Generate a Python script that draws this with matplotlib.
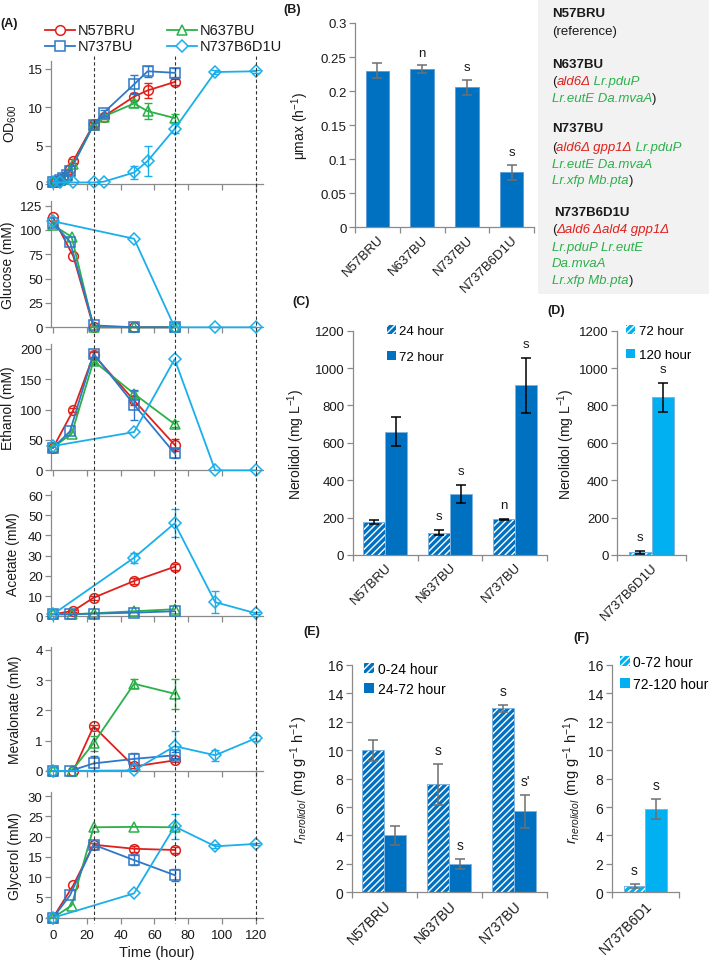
import matplotlib
matplotlib.use('Agg')
import matplotlib.pyplot as plt
from matplotlib.patches import Patch, Rectangle
import numpy as np

# ---------------- DATA ----------------
strains = ['N57BRU', 'N637BU', 'N737BU', 'N737B6D1U']

# OD600
od_t_n57 = [0, 2, 4, 6, 8, 10, 12, 24, 30, 48, 56, 72]
od_n57 = [0.2, 0.3, 0.5, 0.8, 1.2, 1.9, 3.0, 7.8, 8.8, 11.4, 12.2, 13.3]
od_e_n57 = [0, 0, 0, 0, 0, 0, 0.3, 0.3, 0.3, 0.5, 1.0, 0.4]
od_t_n637 = [0, 2, 4, 6, 8, 10, 12, 24, 30, 48, 56, 72]
od_n637 = [0.2, 0.3, 0.5, 0.7, 1.1, 1.7, 2.6, 7.7, 8.8, 10.5, 9.5, 8.6]
od_e_n637 = [0, 0, 0, 0, 0, 0, 0, 0.3, 0.3, 0.5, 1.0, 0.5]
od_t_n737 = [0, 2, 4, 6, 8, 10, 24, 30, 48, 56, 72]
od_n737 = [0.2, 0.3, 0.5, 0.8, 1.2, 1.7, 7.7, 9.3, 13.0, 14.7, 14.5]
od_e_n737 = [0, 0, 0, 0, 0, 0, 0.3, 0.4, 1.2, 0.7, 0.6]
od_t_b6d1 = [0, 4, 12, 24, 30, 48, 56, 72, 96, 120]
od_b6d1 = [0.2, 0.2, 0.2, 0.2, 0.3, 1.5, 3.0, 7.2, 14.6, 14.7]
od_e_b6d1 = [0, 0, 0, 0, 0, 0.9, 2.0, 0.6, 0.3, 0.2]

# Metabolite sampling times
met_t_n57 = [0, 12, 24, 48, 72]
met_t_n637 = [0, 11, 24, 48, 72]
met_t_n737 = [0, 10, 24, 48, 72]
met_t_b6d1 = [0, 48, 72, 96, 120]

glucose_n57 = [113, 73, 0, 0, 0]
glucose_n637 = [105, 93, 0, 0, 0]
glucose_n737 = [107, 88, 2, 0, 0]
glucose_b6d1 = [109, 91, 0, 0, 0]

ethanol_n57 = [37, 99, 190, 115, 42]
ethanol_e_n57 = [0, 3, 5, 8, 10]
ethanol_n637 = [38, 60, 180, 126, 76]
ethanol_e_n637 = [0, 0, 5, 5, 5]
ethanol_n737 = [37, 64, 192, 108, 28]
ethanol_e_n737 = [0, 0, 5, 25, 8]
ethanol_b6d1 = [40, 63, 183, 0, 0]
ethanol_e_b6d1 = [0, 0, 0, 0, 0]

acetate_n57 = [1, 2.7, 9.2, 17.5, 24.5]
acetate_e_n57 = [0, 0.5, 1.0, 1.5, 1.5]
acetate_n637 = [1, 1, 1.5, 2.5, 3.5]
acetate_e_n637 = [0, 0, 0, 0, 0]
acetate_n737 = [1, 1, 1.3, 1.8, 2.5]
acetate_e_n737 = [0, 0, 0, 0, 0]
acetate_b6d1 = [1, 29, 46, 7, 1.5]
acetate_e_b6d1 = [0, 2.5, 7, 5.5, 0.5]

meval_n57 = [0, 0, 1.47, 0.15, 0.35]
meval_e_n57 = [0, 0, 0.05, 0.05, 0.05]
meval_n637 = [0, 0, 0.92, 2.88, 2.55]
meval_e_n637 = [0, 0, 0.25, 0.15, 0.5]
meval_n737 = [0, 0, 0.25, 0.4, 0.52]
meval_e_n737 = [0, 0, 0.25, 0.2, 0.1]
meval_b6d1 = [0, 0.02, 0.82, 0.52, 1.08]
meval_e_b6d1 = [0, 0, 0.5, 0.18, 0.1]

glycerol_n57 = [0, 8, 18, 17, 16.7]
glycerol_e_n57 = [0, 0, 0.5, 0.8, 0.8]
glycerol_n637 = [0, 3, 22.3, 22.4, 22.3]
glycerol_e_n637 = [0, 0, 0, 0, 0]
glycerol_n737 = [0, 5.5, 18, 14.2, 10.5]
glycerol_e_n737 = [0, 0, 0.5, 1.3, 1.5]
glycerol_b6d1 = [0, 6, 22.5, 17.6, 18.2]
glycerol_e_b6d1 = [0, 0, 3, 0.5, 0.3]

# Panel B
mu_max = [0.230, 0.232, 0.206, 0.081]
mu_err = [0.011, 0.006, 0.011, 0.011]
mu_sig = ['', 'n', 's', 's']

# Panel C
c_strains = ['N57BRU', 'N637BU', 'N737BU']
ner_24 = [178, 120, 190]
ner_24_err = [10, 15, 5]
ner_24_sig = ['', 's', 'n']
ner_72 = [660, 325, 908]
ner_72_err = [78, 48, 148]
ner_72_sig = ['', 's', 's']

# Panel D
d_strain = ['N737B6D1U']
ner_d72 = [15]
ner_d72_err = [8]
ner_d120 = [843]
ner_d120_err = [77]

# Panel E
r_0_24 = [10.0, 7.6, 12.95]
r_0_24_err = [0.75, 1.45, 0.25]
r_0_24_sig = ['', 's', 's']
r_24_72 = [4.0, 2.0, 5.7]
r_24_72_err = [0.65, 0.35, 1.15]
r_24_72_sig = ['', 's', "s'"]

# Panel F
f_strain = ['N737B6D1']
r_0_72 = [0.45]
r_0_72_err = [0.15]
r_72_120 = [5.85]
r_72_120_err = [0.7]

# ---------------- STYLE ----------------
plt.rcParams['font.family'] = ['Liberation Sans', 'DejaVu Sans']
plt.rcParams['mathtext.fontset'] = 'custom'
plt.rcParams['mathtext.rm'] = 'Liberation Sans'
plt.rcParams['mathtext.it'] = 'Liberation Sans:italic'
plt.rcParams['mathtext.bf'] = 'Liberation Sans:bold'
plt.rcParams['hatch.linewidth'] = 1.0

W, H = 709, 962
fig = plt.figure(figsize=(W / 100, H / 100), dpi=100)

def rect(l, t, r, b):
    return [l / W, 1 - b / H, (r - l) / W, (b - t) / H]

RED = '#E0201B'
GREEN = '#2BB04A'
BLUE = '#2E78C8'
LBLUE = '#1AAFEA'
BAR_D = '#0070C0'
BAR_L = '#00B0F0'
SPINE = '#8a8a8a'
TXT = '#1a1a1a'
HATCH = '/////'

def style_axes(ax, fs):
    for s in ['top', 'right']:
        ax.spines[s].set_visible(False)
    for s in ['left', 'bottom']:
        ax.spines[s].set_color(SPINE)
        ax.spines[s].set_linewidth(0.9)
    ax.tick_params(direction='out', length=4, width=0.9, color=SPINE,
                   labelsize=fs, labelcolor=TXT, pad=2)
    ax.tick_params(which='minor', direction='out', length=4, width=0.9, color=SPINE)

# ---------------- PANEL A ----------------
A_L, A_R = 51, 263
XMIN, XMAX = -1.2, 124.3

series_meta = [
    ('o', RED, 7), ('^', GREEN, 7.5), ('s', BLUE, 7.5), ('D', LBLUE, 6),
]

def draw_series(ax, t, y, e, meta):
    m, c, ms = meta
    ax.plot(t, y, color=c, lw=1.3, marker=m, ms=ms, mfc='none', mec=c,
            mew=1.1, clip_on=False, zorder=3)
    t = np.asarray(t, float); y = np.asarray(y, float); e = np.asarray(e, float)
    sel = e > 0
    if sel.any():
        ax.errorbar(t[sel], y[sel], yerr=e[sel], fmt='none', ecolor=c,
                    elinewidth=1.0, capsize=3, capthick=1.0, zorder=3, clip_on=False)

panels_A = [
    (62.3, 185.0, 16, [0, 5, 10, 15], 'OD$_{600}$', -0.15,
     [(od_t_n57, od_n57, od_e_n57), (od_t_n637, od_n637, od_e_n637),
      (od_t_n737, od_n737, od_e_n737), (od_t_b6d1, od_b6d1, od_e_b6d1)]),
    (201.8, 328.3, 130, [0, 25, 50, 75, 100, 125], 'Glucose (mM)', -0.17,
     [(met_t_n57, glucose_n57, [0] * 5), (met_t_n637, glucose_n637, [0] * 5),
      (met_t_n737, glucose_n737, [0] * 5), (met_t_b6d1, glucose_b6d1, [0] * 5)]),
    (345.0, 471.3, 208, [0, 50, 100, 150, 200], 'Ethanol (mM)', -0.17,
     [(met_t_n57, ethanol_n57, ethanol_e_n57), (met_t_n637, ethanol_n637, ethanol_e_n637),
      (met_t_n737, ethanol_n737, ethanol_e_n737), (met_t_b6d1, ethanol_b6d1, ethanol_e_b6d1)]),
    (492.0, 617.3, 62, [0, 10, 20, 30, 40, 50, 60], 'Acetate (mM)', -0.146,
     [(met_t_n57, acetate_n57, acetate_e_n57), (met_t_n637, acetate_n637, acetate_e_n637),
      (met_t_n737, acetate_n737, acetate_e_n737), (met_t_b6d1, acetate_b6d1, acetate_e_b6d1)]),
    (647.8, 772.0, 4.1, [0, 1, 2, 3, 4], 'Mevalonate (mM)', -0.137,
     [(met_t_n57, meval_n57, meval_e_n57), (met_t_n637, meval_n637, meval_e_n637),
      (met_t_n737, meval_n737, meval_e_n737), (met_t_b6d1, meval_b6d1, meval_e_b6d1)]),
    (793.0, 918.7, 31, [0, 5, 10, 15, 20, 25, 30], 'Glycerol (mM)', -0.137,
     [(met_t_n57, glycerol_n57, glycerol_e_n57), (met_t_n637, glycerol_n637, glycerol_e_n637),
      (met_t_n737, glycerol_n737, glycerol_e_n737), (met_t_b6d1, glycerol_b6d1, glycerol_e_b6d1)]),
]

axesA = []
for i, (top, bot, ymax, yt, lab, lx, data) in enumerate(panels_A):
    ax = fig.add_axes(rect(A_L, top, A_R, bot))
    ax.patch.set_alpha(0)
    style_axes(ax, 9.5)
    for (t, y, e), meta in zip(data, series_meta):
        draw_series(ax, t, y, e, meta)
    ax.set_xlim(XMIN, XMAX)
    ax.set_ylim(0, ymax)
    ax.set_yticks(yt)
    ax.set_xticks(np.arange(0, 121, 20))
    if i < len(panels_A) - 1:
        ax.tick_params(axis='x', labelbottom=False)
    else:
        ax.tick_params(axis='x', pad=4)
        ax.set_xlabel('Time (hour)', fontsize=10.5, color=TXT, labelpad=3)
    ax.set_ylabel(lab, fontsize=10, color=TXT)
    ax.yaxis.set_label_coords(lx, 0.5)
    axesA.append(ax)

# ---------------- PANEL B ----------------
axB = fig.add_axes(rect(355, 24, 534, 228.4))
style_axes(axB, 9.5)
xb = np.arange(len(strains))
axB.bar(xb, mu_max, width=0.52, color=BAR_D, edgecolor='#5B9BD5', lw=0.6, zorder=2)
axB.errorbar(xb, mu_max, yerr=mu_err, fmt='none', ecolor='#6f6f6f', elinewidth=1.1,
             capsize=3.5, capthick=1.1, zorder=3)
for x, v, e, s in zip(xb, mu_max, mu_err, mu_sig):
    if s:
        axB.annotate(s, (x, v + e), xytext=(0, 9), textcoords='offset points',
                     ha='center', va='center', fontsize=9.5, color=TXT)
axB.set_xlim(-0.5, len(strains) - 0.5)
axB.set_ylim(0, 0.3)
axB.set_yticks([0, 0.05, 0.1, 0.15, 0.2, 0.25, 0.3])
axB.set_yticklabels(['0', '0.05', '0.1', '0.15', '0.2', '0.25', '0.3'])
axB.set_xticks(xb)
axB.set_xticklabels(strains, rotation=45, ha='right', va='top', rotation_mode='anchor')
axB.tick_params(axis='x', length=0, pad=4)
axB.set_xticks(np.arange(-0.5, len(strains), 1.0), minor=True)
axB.set_ylabel('μmax (h$^{-1}$)', fontsize=10, color=TXT)
axB.yaxis.set_label_coords(-0.246, 0.5)

# ---------------- grouped bar helper ----------------
def hatched_bar(ax, x, h, w, color):
    ax.bar(x, h, width=w, color=color, edgecolor='white', hatch=HATCH, lw=0, zorder=2)
    ax.bar(x, h, width=w, fill=False, edgecolor='#7fb3e0', lw=0.7, zorder=2)

def solid_bar(ax, x, h, w, color):
    ax.bar(x, h, width=w, color=color, edgecolor='#7fb3e0', lw=0.7, zorder=2)

def err(ax, x, v, e, c):
    ax.errorbar(x, v, yerr=e, fmt='none', ecolor=c, elinewidth=1.1, capsize=3.5,
                capthick=1.1, zorder=3)

def sig(ax, x, v, e, labels, fs):
    for xi, vi, ei, s in zip(x, v, e, labels):
        if s:
            ax.annotate(s, (xi, vi + ei), xytext=(0, 10), textcoords='offset points',
                        ha='center', va='center', fontsize=fs, color=TXT)

def cat_axis(ax, labels, fs):
    n = len(labels)
    ax.set_xlim(-0.5, n - 0.5)
    ax.set_xticks(np.arange(n))
    ax.set_xticklabels(labels, rotation=45, ha='right', va='top', rotation_mode='anchor')
    ax.tick_params(axis='x', which='major', length=0, pad=4)
    ax.set_xticks(np.arange(-0.5, n, 1.0), minor=True)

def bar_legend(ax, color, labels, anchor, fs, spacing):
    hs = [Patch(facecolor=color, edgecolor='white', hatch=HATCH, lw=0),
          Patch(facecolor=color, lw=0)]
    ax.legend(hs, labels, loc='upper left', bbox_to_anchor=anchor, frameon=False,
              fontsize=fs, handlelength=0.7, handleheight=0.7, handletextpad=0.25,
              labelspacing=spacing, borderpad=0, borderaxespad=0)

# ---------------- PANEL C ----------------
axC = fig.add_axes(rect(352.7, 331.7, 547.3, 556))
style_axes(axC, 9.5)
xc = np.arange(len(c_strains))
w = 0.34
hatched_bar(axC, xc - w / 2, ner_24, w, BAR_D)
solid_bar(axC, xc + w / 2, ner_72, w, BAR_D)
err(axC, xc - w / 2, ner_24, ner_24_err, 'black')
err(axC, xc + w / 2, ner_72, ner_72_err, 'black')
sig(axC, xc - w / 2, ner_24, ner_24_err, ner_24_sig, 9.5)
sig(axC, xc + w / 2, ner_72, ner_72_err, ner_72_sig, 9.5)
cat_axis(axC, c_strains, 9.5)
axC.set_ylim(0, 1200)
axC.set_yticks(np.arange(0, 1201, 200))
axC.set_ylabel('Nerolidol (mg L$^{-1}$)', fontsize=10, color=TXT)
axC.yaxis.set_label_coords(-0.235, 0.5)
bar_legend(axC, BAR_D, ['24 hour', '72 hour'], (0.175, 1.025), 9.5, 1.05)

# ---------------- PANEL D ----------------
axD = fig.add_axes(rect(617.3, 331.7, 685.7, 556))
style_axes(axD, 9.5)
xd = np.arange(len(d_strain))
w = 0.33
hatched_bar(axD, xd - w / 2, ner_d72, w, BAR_L)
solid_bar(axD, xd + w / 2, ner_d120, w, BAR_L)
err(axD, xd - w / 2, ner_d72, ner_d72_err, 'black')
err(axD, xd + w / 2, ner_d120, ner_d120_err, 'black')
sig(axD, xd - w / 2, ner_d72, ner_d72_err, ['s'], 9.5)
sig(axD, xd + w / 2, ner_d120, ner_d120_err, ['s'], 9.5)
cat_axis(axD, d_strain, 9.5)
axD.set_ylim(0, 1200)
axD.set_yticks(np.arange(0, 1201, 200))
axD.set_ylabel('Nerolidol (mg L$^{-1}$)', fontsize=10, color=TXT)
axD.yaxis.set_label_coords(-0.589, 0.5)
bar_legend(axD, BAR_L, ['72 hour', '120 hour'], (0.127, 1.025), 9.5, 0.9)

# ---------------- PANEL E ----------------
axE = fig.add_axes(rect(351.7, 666, 546.7, 893.3))
style_axes(axE, 10)
w = 0.34
hatched_bar(axE, xc - w / 2, r_0_24, w, BAR_D)
solid_bar(axE, xc + w / 2, r_24_72, w, BAR_D)
err(axE, xc - w / 2, r_0_24, r_0_24_err, '#6f6f6f')
err(axE, xc + w / 2, r_24_72, r_24_72_err, '#6f6f6f')
sig(axE, xc - w / 2, r_0_24, r_0_24_err, r_0_24_sig, 10)
sig(axE, xc + w / 2, r_24_72, r_24_72_err, r_24_72_sig, 10)
cat_axis(axE, c_strains, 10)
axE.set_ylim(0, 16)
axE.set_yticks(np.arange(0, 17, 2))
axE.set_ylabel('$r_{nerolidol}$ (mg g$^{-1}$ h$^{-1}$)', fontsize=10.5, color=TXT)
axE.yaxis.set_label_coords(-0.214, 0.5)
bar_legend(axE, BAR_D, ['0-24 hour', '24-72 hour'], (0.065, 1.015), 10, 0.45)

# ---------------- PANEL F ----------------
axF = fig.add_axes(rect(611.7, 666, 679, 893.3))
style_axes(axF, 10)
xf = np.arange(len(f_strain))
w = 0.32
hatched_bar(axF, xf - w / 2, r_0_72, w, BAR_L)
solid_bar(axF, xf + w / 2, r_72_120, w, BAR_L)
err(axF, xf - w / 2, r_0_72, r_0_72_err, '#6f6f6f')
err(axF, xf + w / 2, r_72_120, r_72_120_err, '#6f6f6f')
sig(axF, xf - w / 2, r_0_72, r_0_72_err, ['s'], 10)
sig(axF, xf + w / 2, r_72_120, r_72_120_err, ['s'], 10)
cat_axis(axF, f_strain, 10)
axF.set_ylim(0, 16)
axF.set_yticks(np.arange(0, 17, 2))
axF.set_ylabel('$r_{nerolidol}$ (mg g$^{-1}$ h$^{-1}$)', fontsize=10.5, color=TXT)
axF.yaxis.set_label_coords(-0.426, 0.5)
bar_legend(axF, BAR_L, ['0-72 hour', '72-120 hour'], (0.123, 1.045), 10, 0.6)

# ---------------- OVERLAY (pixel coordinates) ----------------
ov = fig.add_axes([0, 0, 1, 1])
ov.set_xlim(0, W)
ov.set_ylim(H, 0)
ov.set_axis_off()

# dashed guide lines through panel A
for tt in [24, 72, 120]:
    xp = A_L + (tt - XMIN) / (XMAX - XMIN) * (A_R - A_L)
    ov.plot([xp, xp], [57, 924], ls=(0, (3, 2.2)), color='#333333', lw=0.8, zorder=1)

# panel A legend
leg_items = [(45, 31, 0), (167, 31, 1), (45, 47, 2), (167, 47, 3)]
for (x0, y0, k) in leg_items:
    m, c, ms = series_meta[k]
    ov.plot([x0, x0 + 30], [y0, y0], color=c, lw=1.3)
    ov.plot([x0 + 15], [y0], marker=m, ms=ms, mfc='white', mec=c, mew=1.1, color=c)
    ov.text(x0 + 33, y0, strains[k], fontsize=10.5, va='center', ha='left', color=TXT)

# panel labels
for lab, x, y in [('(A)', 0, 23.5), ('(B)', 283, 10), ('(C)', 292, 302),
                  ('(D)', 547, 311), ('(E)', 303, 632), ('(F)', 573, 638)]:
    ov.text(x, y, lab, fontsize=9, fontweight='bold', va='center', ha='left', color=TXT)

# strain description box
ov.add_patch(Rectangle((538, 0), W - 538, 295, facecolor='#F2F2F2', edgecolor='none', zorder=0))
K, R, G = TXT, '#E0201B', '#2BB04A'
box_lines = [
    (552, 14, [('N57BRU', K, 'normal', 'bold')]),
    (552, 32, [('(reference)', K, 'normal', 'normal')]),
    (552, 65, [('N637BU', K, 'normal', 'bold')]),
    (552, 82, [('(', K, 'normal', 'normal'), ('ald6Δ', R, 'italic', 'normal'),
               (' Lr.pduP', G, 'italic', 'normal')]),
    (552, 99, [('Lr.eutE Da.mvaA', G, 'italic', 'normal'), (')', K, 'normal', 'normal')]),
    (552, 129, [('N737BU', K, 'normal', 'bold')]),
    (552, 148, [('(', K, 'normal', 'normal'), ('ald6Δ gpp1Δ', R, 'italic', 'normal'),
                (' Lr.pduP', G, 'italic', 'normal')]),
    (552, 165, [('Lr.eutE Da.mvaA', G, 'italic', 'normal')]),
    (552, 181, [('Lr.xfp Mb.pta', G, 'italic', 'normal'), (')', K, 'normal', 'normal')]),
    (554, 213, [('N737B6D1U', K, 'normal', 'bold')]),
    (552, 230, [('(', K, 'normal', 'normal'), ('Δald6 Δald4 gpp1Δ', R, 'italic', 'normal')]),
    (552, 248, [('Lr.pduP Lr.eutE', G, 'italic', 'normal')]),
    (552, 264, [('Da.mvaA', G, 'italic', 'normal')]),
    (552, 281, [('Lr.xfp Mb.pta', G, 'italic', 'normal'), (')', K, 'normal', 'normal')]),
]
for x0, y0, segs in box_lines:
    prev = None
    for s, c, st, wt in segs:
        if prev is None:
            prev = ov.text(x0, y0, s, color=c, fontstyle=st, fontweight=wt,
                           fontsize=9.5, va='center', ha='left')
        else:
            prev = ov.annotate(s, xy=(1, 0), xycoords=prev, color=c, fontstyle=st,
                               fontweight=wt, fontsize=9.5, va='bottom', ha='left')

fig.savefig('out.png', dpi=100)
